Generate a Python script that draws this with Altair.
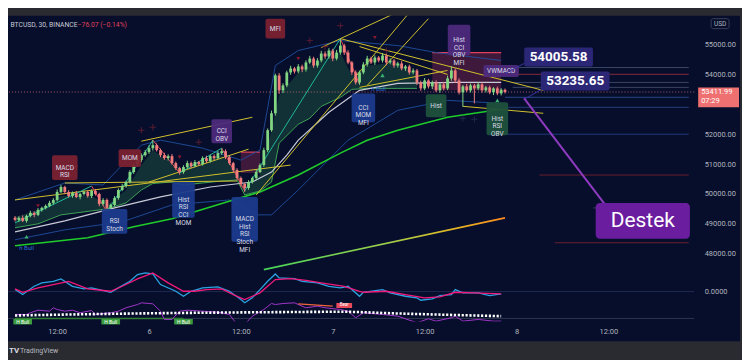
import altair as alt
import pandas as pd

# ---------------- data ----------------
closes = [49133, 49200, 49100, 49267, 49367, 49300, 49467, 49533, 49600, 49700,
          49800, 50067, 50233, 50067, 49933, 50033, 49900, 50000, 50067, 49933,
          50100, 50000, 49667, 49800, 49533, 49633, 49867, 50133, 50267, 50400,
          50733, 50967, 51133, 51300, 51400, 51533, 51633, 51467, 51300, 51200,
          51267, 51033, 50867, 50733, 50900, 51033, 50933, 51067, 51000, 51200,
          51100, 51267, 51200, 51367, 51433, 51233, 51033, 50800, 50533, 50333,
          50200, 50400, 50533, 50733, 50967, 51467, 52133, 52700, 53967, 53467,
          53633, 54067, 54200, 54100, 54267, 54167, 54400, 54533, 54300, 54467,
          54700, 54600, 54800, 54533, 54733, 54967, 54733, 54400, 54067, 53733,
          54067, 54333, 54533, 54400, 54567, 54467, 54633, 54400, 54467, 54300,
          54367, 54200, 54267, 54067, 54133, 53733, 53533, 53800, 53600, 53733,
          53467, 53667, 53533, 53867, 54133, 53800, 53400, 53600, 53467, 53633,
          53533, 53667, 53467, 53567, 53400, 53533, 53367, 53488, 53411.99]
first_open = 49200
upper_wick = [60, 50, 80, 40, 70, 50, 60, 40, 50, 70,
              60, 80, 70, 40, 60, 50, 70, 40, 50, 60,
              50, 70, 40, 60, 50, 40, 60, 50, 70, 40,
              60, 50, 80, 60, 70, 90, 170, 60, 50, 80,
              60, 70, 50, 40, 60, 80, 50, 70, 40, 60,
              80, 50, 60, 70, 90, 60, 50, 40, 60, 50,
              40, 60, 50, 70, 60, 80, 60, 90, 60, 80,
              70, 60, 90, 50, 80, 60, 70, 90, 60, 80,
              90, 70, 80, 60, 90, 233, 60, 80, 50, 70,
              60, 80, 90, 60, 70, 50, 80, 60, 70, 50,
              60, 80, 50, 60, 70, 50, 60, 80, 50, 60,
              70, 50, 80, 90, 134, 60, 70, 50, 80, 60,
              50, 70, 60, 50, 60, 40, 60, 50, 40]
lower_wick = [50, 70, 40, 60, 50, 80, 40, 60, 50, 40,
              60, 50, 40, 70, 50, 60, 40, 80, 50, 60,
              70, 50, 80, 60, 90, 70, 50, 60, 40, 60,
              50, 60, 40, 70, 50, 60, 80, 50, 70, 60,
              80, 50, 60, 90, 60, 50, 70, 40, 60, 50,
              60, 50, 70, 40, 60, 70, 60, 80, 70, 90,
              130, 60, 50, 70, 40, 60, 70, 50, 80, 120,
              90, 60, 80, 70, 60, 90, 70, 60, 80, 70,
              60, 80, 70, 90, 60, 70, 80, 60, 90, 70,
              80, 60, 70, 50, 80, 60, 70, 90, 60, 80,
              70, 60, 80, 70, 60, 90, 80, 60, 70, 90,
              60, 80, 70, 60, 80, 90, 70, 480, 60, 70,
              500, 60, 80, 70, 60, 90, 60, 70, 50]

cloud_t = ["5 06:30", "5 09:30", "5 12:30", "5 16:30", "5 18:30", "5 21:00", "5 23:00", "6 00:30",
           "6 03:00", "6 04:30", "6 07:00", "6 09:30", "6 11:30", "6 12:30", "6 14:30", "6 16:00",
           "6 17:00", "6 19:30", "6 21:00", "6 22:30", "7 01:00", "7 02:30", "7 04:30", "7 08:30", "7 11:00"]
cloud_fast = [49233, 49467, 49933, 49933, 49633, 50133, 50967, 51467, 51033, 50800, 51067, 51300, 50800,
              50200, 50633, 52133, 53300, 54067, 54300, 54467, 54733, 53967, 54300, 54400, 53967]
cloud_trail = [48867, 49000, 49300, 49433, 49500, 49700, 50133, 50350, 50400, 50300, 50367, 50433, 50467,
               49967, 50100, 50400, 51700, 52333, 52533, 52933, 53233, 53500, 53533, 53533, 53533]

bb_up_t = ["5 06:30", "5 13:00", "5 18:00", "5 23:00", "6 01:30", "6 07:00", "6 12:00", "6 14:30",
           "6 16:30", "6 19:30", "7 01:00", "7 08:30", "7 13:30", "7 22:00"]
bb_up_p = [49800, 50367, 50300, 51633, 51800, 51533, 51133, 51467, 54300, 54800, 55133, 54967, 54733, 54467]
bb_lo_t = ["5 06:30", "5 13:00", "5 20:30", "6 03:00", "6 10:30", "6 14:00", "6 16:00", "6 19:30",
           "7 02:00", "7 08:30", "7 15:00", "7 22:00"]
bb_lo_p = [48467, 48800, 49067, 49633, 49800, 49300, 49300, 50133, 51800, 52800, 53133, 53033]

ma_long_t = ["5 06:30", "5 16:00", "5 22:00", "6 03:00", "6 11:00", "6 14:30", "6 19:30", "7 01:00",
             "7 04:30", "7 08:30", "7 15:00", "7 22:00"]
ma_long_p = [48267, 48533, 48900, 49167, 49800, 50067, 50633, 51367, 51800, 52133, 52567, 52833]
ma_mid_t = ["5 06:30", "5 13:00", "5 19:30", "6 01:30", "6 08:00", "6 13:30", "6 16:00", "6 18:00",
            "6 19:30", "6 23:30", "7 03:30", "7 08:30", "7 16:00", "7 22:00"]
ma_mid_p = [48733, 49100, 49533, 49900, 50233, 50400, 50733, 51300, 51800, 52733, 53467, 53700, 53733, 53733]
grad_t = ["6 15:00", "7 22:30"]
grad_p = [47467, 49200]

trend_t1 = ["5 06:30", "5 13:00", "5 23:00", "6 00:00", "6 14:00", "6 22:30", "7 04:30", "7 01:00",
            "7 03:30", "7 03:30", "7 17:00"]
trend_p1 = [49800, 50367, 51767, 50400, 49967, 54900, 53633, 55200, 54933, 53567, 52933]
trend_t2 = ["6 18:30", "6 11:30", "6 13:30", "6 13:00", "7 10:00", "7 08:00", "7 12:30", "8 03:30",
            "7 15:00", "7 15:00", "8 03:30"]
trend_p2 = [50967, 50433, 52567, 51500, 56067, 56033, 55867, 53467, 54000, 54133, 52700]

zz_t = ["5 06:30", "5 16:30", "5 18:30", "6 00:30", "6 04:00", "6 09:30", "6 12:30", "7 01:00", "7 03:30"]
zz_p = [49033, 50267, 49400, 51800, 50700, 51533, 50100, 55200, 53667]

level_p = [54233, 54005.58, 53733, 53567, 53235.65, 52900, 52000, 50633, 49533, 48367]
level_t = ["7 23:00", "7 22:30", "7 23:30", "7 23:30", "7 22:30", "7 21:00", "7 21:00", "8 03:00", "8 10:00", "8 05:00"]

cross_t = ["5 23:00", "6 00:30", "6 06:30", "6 21:00", "6 23:00", "7 01:00", "7 07:00"]
cross_p = [52133, 52233, 51733, 55133, 54933, 55633, 54800]
cross2_t = ["7 17:00", "7 18:30"]
cross2_p = [52533, 52500]
tri_dn_t = ["5 09:30", "5 14:30", "6 04:00", "6 19:30", "7 05:30"]
tri_dn_p = [49600, 50900, 51233, 54533, 55233]
tri_up_t = ["5 08:00", "7 06:30", "7 21:30"]
tri_up_p = [48567, 53967, 53133]

box_text = ["MACD\nRSI", "MOM", "RSI\nStoch", "Hist\nRSI\nCCI\nMOM", "CCI\nOBV",
            "MACD\nHist\nRSI\nStoch\nMFI", "MFI", "CCI\nMOM\nMFI", "Hist\nCCI\nOBV\nMFI",
            "VWMACD", "Hist", "Hist\nRSI\nOBV"]
box_t = ["5 13:00", "5 21:30", "5 19:30", "6 04:30", "6 09:30", "6 12:30", "6 16:30", "7 04:00",
         "7 16:30", "7 22:00", "7 13:30", "7 21:30"]
box_p = [50883, 51200, 49083, 49800, 52100, 49150, 55533, 52883, 55150, 54117, 52950, 52517]

zone_t1 = ["7 13:00", "6 12:00"]
zone_t2 = ["7 22:00", "6 14:30"]
zone_p1 = [54733, 51400]
zone_p2 = [53467, 50700]

callout_text = ["54005.58", "53235.65"]
callout_t = ["8 05:30", "8 07:40"]
callout_p = [54583, 53783]
conn_t1 = ["8 01:00", "8 03:30"]
conn_p1 = [54367, 53533]
conn_t2 = ["7 22:30", "8 01:00"]
conn_p2 = [54033, 53167]
destek_text = "Destek"
destek_t = "8 16:30"
destek_p = 49100
pointer_t = ["8 01:00", "8 12:00"]
pointer_p = [53200, 49500]

hbull_small_t = ["5 08:00", "7 06:00"]
hbull_small_p = [48200, 53500]

last_price = 53411.99
countdown = "07:29"

blue_t = ["5 06:30", "5 07:30", "5 09:00", "5 10:00", "5 11:30", "5 12:30", "5 14:00", "5 15:30", "5 16:30",
          "5 17:30", "5 19:00", "5 20:00", "5 21:30", "5 22:30", "5 23:30", "6 00:30", "6 01:30", "6 03:30",
          "6 04:30", "6 05:30", "6 07:00", "6 09:00", "6 10:30", "6 12:00", "6 12:30", "6 13:30", "6 14:30",
          "6 15:30", "6 16:30", "6 17:00", "6 19:00", "6 20:00", "6 22:00", "6 23:30", "7 01:00", "7 02:00",
          "7 03:30", "7 04:00", "7 06:30", "7 07:30", "7 09:30", "7 11:00", "7 11:30", "7 13:00", "7 14:00",
          "7 15:30", "7 16:00", "7 17:00", "7 19:00", "7 20:30", "7 22:00"]
blue_v = [20, -30, 53, 87, 103, 127, 53, 27, 37, 20, -7, 37, 103, 170, 187, 177, 70, 3, -47, 3, 37, 47, 3,
          -80, -113, -63, 20, 103, 177, 137, 130, 103, 87, 53, 37, 53, -47, -7, 20, -13, -47, -63, -87, -73,
          -40, -30, 20, -13, -13, -40, -23]
pink_t = ["5 06:30", "5 07:30", "5 09:30", "5 11:30", "5 13:30", "5 16:00", "5 19:00", "5 20:30", "5 22:30",
          "6 00:30", "6 02:30", "6 04:30", "6 06:00", "6 07:30", "6 09:30", "6 11:00", "6 12:30", "6 14:30",
          "6 16:30", "6 18:30", "6 20:30", "6 22:30", "7 00:00", "7 01:30", "7 03:30", "7 04:00", "7 07:00",
          "7 09:30", "7 12:00", "7 14:00", "7 16:00", "7 18:30", "7 22:00"]
pink_v = [27, -7, 37, 70, 103, 27, 3, 53, 127, 187, 87, 3, 3, 20, 27, -30, -80, -13, 120, 130, 113, 87, 70,
          53, 3, -7, 3, -30, -63, -53, -7, -13, -23]
purple_t = ["5 06:30", "5 08:00", "5 08:30", "5 09:30", "5 11:00", "5 11:30", "5 12:00", "5 13:00", "5 14:00",
            "5 15:00", "5 16:30", "5 17:00", "5 19:00", "5 20:00", "5 21:00", "5 22:30", "5 23:00", "6 00:30",
            "6 01:30", "6 02:00", "6 03:00", "6 04:00", "6 05:00", "6 07:00", "6 09:00", "6 10:30", "6 11:30",
            "6 12:30", "6 13:30", "6 15:00", "6 16:00", "6 16:30", "6 17:30", "6 19:00", "6 20:30", "6 22:00",
            "6 23:00", "7 01:00", "7 02:00", "7 03:00", "7 04:00", "7 06:30", "7 08:30", "7 11:00", "7 12:30",
            "7 13:30", "7 15:30", "7 16:00", "7 17:00", "7 19:00", "7 21:00", "7 22:00"]
purple_v = [-230, -230, -213, -187, -197, -163, -180, -197, -187, -213, -190, -230, -213, -197, -163, -130,
            -113, -123, -197, -280, -280, -197, -187, -197, -207, -230, -330, -330, -247, -180, -120, -130,
            -120, -113, -163, -147, -163, -180, -197, -263, -213, -230, -247, -313, -273, -297, -263, -247,
            -297, -280, -297, -297]
dots_t = ["5 06:30", "5 22:30", "6 16:00", "7 01:00", "7 08:30", "7 22:00"]
dots_v = [-240, -220, -207, -203, -220, -247]
hbull_t = ["5 07:30", "5 19:00", "6 04:30"]
bear_t = "7 01:30"
bear_v = -140
bearline_t = ["6 19:30", "7 00:00"]
bearline_v = [-123, -147]

tick_t = ["5 12:00", "6 00:00", "6 12:00", "7 00:00", "7 12:00", "8 00:00", "8 12:00"]
price_ticks = [48000, 49000, 50000, 51000, 52000, 54000, 55000]

# ---------------- layout / style ----------------
W, H = 689, 307
NAVY = "#060e2c"
GREY = "#2a2b30"
AXC = "#b2b5be"
GREEN = "#82d682"
RED = "#f27c7c"
FONT = "Roboto"
MS_PX = 30 * 60 * 1000 / 3.9          # ms per pixel
USD_PX = 1000 / 30                     # USD per pixel
OSC_PX = 10                            # oscillator units per pixel
MAROON, BLUEB, PURP, GRNB = "#7a2232", "#1b3b8c", "#4e2a7c", "#1f513c"
box_w = [26, 23, 26, 23, 21, 27, 20, 24, 23, 36, 21, 22]
box_h = [25, 18, 25, 36, 24, 45, 20, 29, 31, 12, 23, 33]
box_fill = [MAROON, MAROON, BLUEB, BLUEB, PURP, BLUEB, MAROON, BLUEB, PURP, PURP, GRNB, GRNB]


def tm(s):
    d, hm = s.split()
    return int(pd.Timestamp(f"2021-10-{int(d):02d} {hm}").value // 10**6)


base = tm("5 06:30")
xmin = base - 2.1 * MS_PX
xmax = xmin + W * MS_PX
ymax = 55000 + (44 - 15) * USD_PX
ymin = ymax - H * USD_PX
omax = (292 - 15) * OSC_PX
omin = omax - H * OSC_PX

xscale = alt.Scale(type="utc", domain=[xmin, xmax], nice=False)
yscale = alt.Scale(domain=[ymin, ymax], nice=False, zero=False)
oscale = alt.Scale(domain=[omin, omax], nice=False, zero=False)
xaxis = alt.Axis(values=[tm(s) for s in tick_t], grid=False, ticks=False, domain=False,
                 labelExpr="utchours(datum.value) == 0 ? utcFormat(datum.value, '%-d') : utcFormat(datum.value, '%H:%M')",
                 labelColor=AXC, labelFont=FONT, labelFontSize=7.5, labelPadding=6, title=None,
                 labelOverlap=False, labelFlush=False, zindex=2)
yaxis = alt.Axis(orient="right", values=price_ticks, format=".2f", grid=False, ticks=False, tickSize=0,
                 domain=False, labelColor=AXC, labelFont=FONT, labelFontSize=7.5, labelPadding=10,
                 labelAlign="left", title=None, labelOverlap=False, zindex=2)
oaxis = alt.Axis(orient="right", values=[0], format=".4f", grid=False, ticks=False,
                 tickSize=0, domain=False, labelColor=AXC, labelFont=FONT, labelFontSize=7.5,
                 labelPadding=10, labelAlign="left", title=None, zindex=2)


def X(f="t"):
    return alt.X(f"{f}:T", scale=xscale, axis=xaxis, title=None)


def Y(f="p"):
    return alt.Y(f"{f}:Q", scale=yscale, axis=yaxis, title=None)


def O(f="v"):
    return alt.Y(f"{f}:Q", scale=oscale, axis=oaxis, title=None)


def tdf(ts, vals, name="p"):
    return pd.DataFrame({"t": [tm(s) for s in ts], name: vals})


def pline(ts, ps, color, width=1.0, **kw):
    return alt.Chart(tdf(ts, ps)).mark_line(color=color, strokeWidth=width, **kw).encode(x=X(), y=Y())


def oline(ts, vs, color, width=1.0, **kw):
    return alt.Chart(tdf(ts, vs, "v")).mark_line(color=color, strokeWidth=width, **kw).encode(x=X(), y=O())


def segs(t1, p1, t2, p2, color, width=1.0, scale="p", **kw):
    df = pd.DataFrame({"t1": [tm(s) for s in t1], "p1": p1, "t2": [tm(s) for s in t2], "p2": p2})
    yenc = Y("p1") if scale == "p" else O("p1")
    return alt.Chart(df).mark_rule(color=color, strokeWidth=width, **kw).encode(
        x=X("t1"), x2=alt.X2("t2"), y=yenc, y2=alt.Y2("p2"))


# candles
n = len(closes)
assert len(upper_wick) == n and len(lower_wick) == n
opens = [first_open] + closes[:-1]
cdf = pd.DataFrame({
    "t": [base + i * 1800000 for i in range(n)],
    "o": opens, "c": closes,
    "h": [max(o, c) + u for o, c, u in zip(opens, closes, upper_wick)],
    "l": [min(o, c) - d for o, c, d in zip(opens, closes, lower_wick)],
})
cdf["col"] = [GREEN if c >= o else RED for o, c in zip(cdf.o, cdf.c)]
wicks = alt.Chart(cdf).mark_rule(strokeWidth=1).encode(
    x=X(), y=Y("l"), y2=alt.Y2("h"), color=alt.Color("col:N", scale=None))
bodies = alt.Chart(cdf).mark_bar(size=2.8).encode(
    x=X(), y=Y("o"), y2=alt.Y2("c"), color=alt.Color("col:N", scale=None))

# background (navy chart area incl. axes; grey frame shows around it)
bg = alt.Chart(pd.DataFrame({"z": [0]})).mark_rect(color=NAVY).encode(
    x=alt.value(0), x2=alt.value(735), y=alt.value(0), y2=alt.value(327))

cloud_df = pd.DataFrame({"t": [tm(s) for s in cloud_t], "fast": cloud_fast, "trail": cloud_trail})
cloud = alt.Chart(cloud_df).mark_area(color="#2e8b57", opacity=0.28).encode(
    x=X(), y=Y("fast"), y2=alt.Y2("trail"))
trail = alt.Chart(cloud_df).mark_line(color="#3f9f55", strokeWidth=1).encode(x=X(), y=Y("trail"))

zone_df = pd.DataFrame({"t1": [tm(s) for s in zone_t1], "t2": [tm(s) for s in zone_t2],
                        "p1": zone_p1, "p2": zone_p2})
zones = alt.Chart(zone_df).mark_rect(color="#b0305a", opacity=0.33).encode(
    x=X("t1"), x2=alt.X2("t2"), y=Y("p1"), y2=alt.Y2("p2"))
zone_tops = alt.Chart(zone_df).mark_rule(color="#e0405a", strokeWidth=1.2).encode(
    x=X("t1"), x2=alt.X2("t2"), y=Y("p1"))

lvl_df = pd.DataFrame({"t": [tm(s) for s in level_t], "t2": [tm("8 22:30")] * len(level_p), "p": level_p,
                       "col": ["#3a4566", "#8a2a3a", "#3a4566", "#3a4566", "#2a4a8a", "#24407a", "#1e3a78",
                               "#6a1f2e", "#333a58", "#6a1f2e"]})
levels = alt.Chart(lvl_df).mark_rule(strokeWidth=1).encode(
    x=X(), x2=alt.X2("t2"), y=Y(), color=alt.Color("col:N", scale=None))

bb_up = pline(bb_up_t, bb_up_p, "#1f4e9e", 1, opacity=0.9)
bb_lo = pline(bb_lo_t, bb_lo_p, "#1f4e9e", 1, opacity=0.9)
ma_long = pline(ma_long_t, ma_long_p, "#1fcc2a", 1.6)
ma_mid = pline(ma_mid_t, ma_mid_p, "#c9cad6", 1.2)
grad = alt.Chart(tdf(grad_t, grad_p)).mark_line(
    strokeWidth=1.6,
    stroke=alt.Gradient(gradient="linear", x1=0, x2=1, y1=0, y2=0,
                        stops=[alt.GradientStop(color="#46d35a", offset=0),
                               alt.GradientStop(color="#9bd04a", offset=0.5),
                               alt.GradientStop(color="#e6b422", offset=0.8),
                               alt.GradientStop(color="#ff8a1e", offset=1)])).encode(x=X(), y=Y())

trends = segs(trend_t1, trend_p1, trend_t2, trend_p2, "#d2c12c", 1, clip=True)
zz_up = segs(zz_t[0:-1:2], zz_p[0:-1:2], zz_t[1::2], zz_p[1::2], "#1fb89a", 1)
zz_dn = segs(zz_t[1:-1:2], zz_p[1:-1:2], zz_t[2::2], zz_p[2::2], "#e0445a", 1)
pline_df = pd.DataFrame({"p": [last_price]})
price_line = alt.Chart(pline_df).mark_rule(color=RED, strokeDash=[1, 2], opacity=0.7).encode(y=Y())

crosses = alt.Chart(tdf(cross_t, cross_p)).mark_point(
    shape="M-1,0H1M0,-1V1", size=40, color="#7a2232", strokeWidth=1, filled=False).encode(x=X(), y=Y())
crosses2 = alt.Chart(tdf(cross2_t, cross2_p)).mark_point(
    shape="M-1,0H1M0,-1V1", size=40, color="#2c3858", strokeWidth=1, filled=False).encode(x=X(), y=Y())
tri_dn = alt.Chart(tdf(tri_dn_t, tri_dn_p)).mark_point(
    shape="triangle-down", size=14, color="#8b1a2b", filled=True, opacity=1).encode(x=X(), y=Y())
tri_up = alt.Chart(tdf(tri_up_t, tri_up_p)).mark_point(
    shape="triangle-up", size=18, color="#3cb371", filled=True, opacity=1).encode(x=X(), y=Y())

bdf = pd.DataFrame({"text": box_text, "t": [tm(s) for s in box_t], "p": box_p,
                    "w": box_w, "h": box_h, "fill": box_fill})
bdf["x1"] = bdf.t - bdf.w / 2 * MS_PX
bdf["x2"] = bdf.t + bdf.w / 2 * MS_PX
bdf["y1"] = bdf.p - bdf.h / 2 * USD_PX
bdf["y2"] = bdf.p + bdf.h / 2 * USD_PX
box_rects = alt.Chart(bdf).mark_rect(cornerRadius=2, opacity=0.95).encode(
    x=X("x1"), x2=alt.X2("x2"), y=Y("y1"), y2=alt.Y2("y2"), color=alt.Color("fill:N", scale=None))
box_texts = alt.Chart(bdf).mark_text(lineBreak="\n", font=FONT, fontSize=6.5, lineHeight=7.6,
                                     color="#dcdce8").encode(x=X(), y=Y(), text="text:N")

cdf2 = pd.DataFrame({"text": callout_text, "t": [tm(s) for s in callout_t], "p": callout_p})
cdf2["x1"] = cdf2.t - 35 * MS_PX
cdf2["x2"] = cdf2.t + 35 * MS_PX
cdf2["y1"] = cdf2.p - 9.5 * USD_PX
cdf2["y2"] = cdf2.p + 9.5 * USD_PX
conns = segs(conn_t1, conn_p1, conn_t2, conn_p2, "#3a33a0", 1)
call_rects = alt.Chart(cdf2).mark_rect(cornerRadius=2, color="#2c2676").encode(
    x=X("x1"), x2=alt.X2("x2"), y=Y("y1"), y2=alt.Y2("y2"))
call_texts = alt.Chart(cdf2).mark_text(font=FONT, fontSize=13.5, fontWeight="bold", color="white").encode(
    x=X(), y=Y(), text="text:N")

pointer = segs(pointer_t[:1], pointer_p[:1], pointer_t[1:], pointer_p[1:], "#8e3bbf", 2)
ddf = pd.DataFrame({"text": [destek_text], "t": [tm(destek_t)], "p": [destek_p]})
ddf["x1"] = ddf.t - 48 * MS_PX
ddf["x2"] = ddf.t + 48 * MS_PX
ddf["y1"] = ddf.p - 18 * USD_PX
ddf["y2"] = ddf.p + 18 * USD_PX
destek_rect = alt.Chart(ddf).mark_rect(cornerRadius=4, color="#6a1d9e").encode(
    x=X("x1"), x2=alt.X2("x2"), y=Y("y1"), y2=alt.Y2("y2"))
destek_txt = alt.Chart(ddf).mark_text(font=FONT, fontSize=21, color="white").encode(
    x=X(), y=Y(), text="text:N")

hbs = alt.Chart(tdf(hbull_small_t, hbull_small_p).assign(text="h Bull")).mark_text(
    font=FONT, fontSize=6, color="#2f6fd6").encode(x=X(), y=Y(), text="text:N")

# last price label on the axis
lp = pd.DataFrame({"p": [last_price], "top": [last_price + 4.6 * USD_PX], "bot": [last_price - 15.4 * USD_PX],
                   "p2": [last_price - 9.3 * USD_PX], "a": [f"{last_price:.2f}"], "b": [countdown]})
lp_rect = alt.Chart(lp).mark_rect(color="#ee7070").encode(
    x=alt.value(W + 4), x2=alt.value(W + 45), y=Y("top"), y2=alt.Y2("bot"))
lp_a = alt.Chart(lp).mark_text(font=FONT, fontSize=7.5, color="white", align="left").encode(
    x=alt.value(W + 7), y=Y("p"), text="a:N")
lp_b = alt.Chart(lp).mark_text(font=FONT, fontSize=7.5, color="white", align="left").encode(
    x=alt.value(W + 7), y=Y("p2"), text="b:N")

one = pd.DataFrame({"z": [0]})
usd_box = alt.Chart(one).mark_rect(fill=NAVY, stroke="#3a3f55", cornerRadius=2).encode(
    x=alt.value(706), x2=alt.value(724), y=alt.value(3), y2=alt.value(13))
usd_txt = alt.Chart(one.assign(s="USD")).mark_text(font=FONT, fontSize=6.5, color=AXC).encode(
    x=alt.value(715), y=alt.value(8), text="s:N")
hdr1 = alt.Chart(one.assign(s="BTCUSD, 30, BINANCE")).mark_text(
    font=FONT, fontSize=6.8, color="#c8cad3", align="left").encode(x=alt.value(2.5), y=alt.value(9), text="s:N")
hdr2 = alt.Chart(one.assign(s="\u221276.07 (\u22120.14%)")).mark_text(
    font=FONT, fontSize=6.8, color="#e0405a", align="left").encode(x=alt.value(70), y=alt.value(9), text="s:N")
footer = alt.Chart(one.assign(s="TradingView")).mark_text(
    font=FONT, fontSize=7, color="#b8bac2", align="left").encode(x=alt.value(12), y=alt.value(337), text="s:N")
logo = alt.Chart(one.assign(s="TV")).mark_text(
    font=FONT, fontSize=8, fontWeight="bold", color="#d8dae0", align="left").encode(
    x=alt.value(1), y=alt.value(337), text="s:N")

main = alt.layer(cloud, zones, zone_tops, levels, bb_up, bb_lo, ma_long, trail, ma_mid, grad, trends,
                 zz_up, zz_dn, price_line, crosses, crosses2, tri_dn, tri_up, wicks, bodies,
                 box_rects, box_texts, conns, pointer, call_rects, call_texts, destek_rect, destek_txt,
                 hbs, lp_rect, lp_a, lp_b)

# oscillator pane
zero = alt.Chart(pd.DataFrame({"v": [0]})).mark_rule(color="#1f2850", strokeWidth=1).encode(y=O())
sep = alt.Chart(pd.DataFrame({"v": [-270]})).mark_rule(color="#2e3450", strokeWidth=1).encode(y=O())
gbase = alt.Chart(pd.DataFrame({"t": [tm("5 06:30")], "t2": [tm("6 04:30")], "v": [-270]})).mark_rule(
    color="#2e7d32", strokeWidth=1.5).encode(x=X(), x2=alt.X2("t2"), y=O())
hb = pd.DataFrame({"t": [tm(s) for s in hbull_t], "s": "H Bull"})
hb["x1"] = hb.t - 9.5 * MS_PX
hb["x2"] = hb.t + 9.5 * MS_PX
hb["v1"] = -275
hb["v2"] = -330
hb["v"] = -302
hb_rect = alt.Chart(hb).mark_rect(color="#3b9c40").encode(x=X("x1"), x2=alt.X2("x2"), y=O("v1"), y2=alt.Y2("v2"))
hb_txt = alt.Chart(hb).mark_text(font=FONT, fontSize=5, color="white").encode(x=X(), y=O(), text="s:N")
bear = pd.DataFrame({"t": [tm(bear_t)], "v": [bear_v], "s": ["Bear"]})
bear["x1"] = bear.t - 8 * MS_PX
bear["x2"] = bear.t + 8 * MS_PX
bear["v1"] = bear.v + 25
bear["v2"] = bear.v - 25
bear_rect = alt.Chart(bear).mark_rect(color="#e84a5a").encode(x=X("x1"), x2=alt.X2("x2"), y=O("v1"), y2=alt.Y2("v2"))
bear_txt = alt.Chart(bear).mark_text(font=FONT, fontSize=4.5, color="white").encode(x=X(), y=O(), text="s:N")
bearline = segs(bearline_t[:1], bearline_v[:1], bearline_t[1:], bearline_v[1:], "#f0643c", 1.2, scale="o")

osc = alt.layer(
    zero, sep, gbase,
    oline(purple_t, purple_v, "#a034c8", 1, clip=True),
    oline(dots_t, dots_v, "white", 2.6, strokeDash=[2.2, 1.7], interpolate="monotone"),
    oline(blue_t, blue_v, "#2aa3e0", 1.3),
    oline(pink_t, pink_v, "#f2197a", 1.3),
    bearline, bear_rect, bear_txt, hb_rect, hb_txt,
)

chart = alt.layer(bg, main, osc, usd_box, usd_txt, hdr1, hdr2, footer, logo).resolve_scale(
    y="independent").properties(
    width=W, height=H, background=GREY,
    padding={"left": 0, "top": 7, "right": 48, "bottom": 38},
    autosize=alt.AutoSizeParams(type="none"),
).configure_view(stroke=None)

chart.save("out.html", embed_options={"renderer": "svg", "actions": False})
